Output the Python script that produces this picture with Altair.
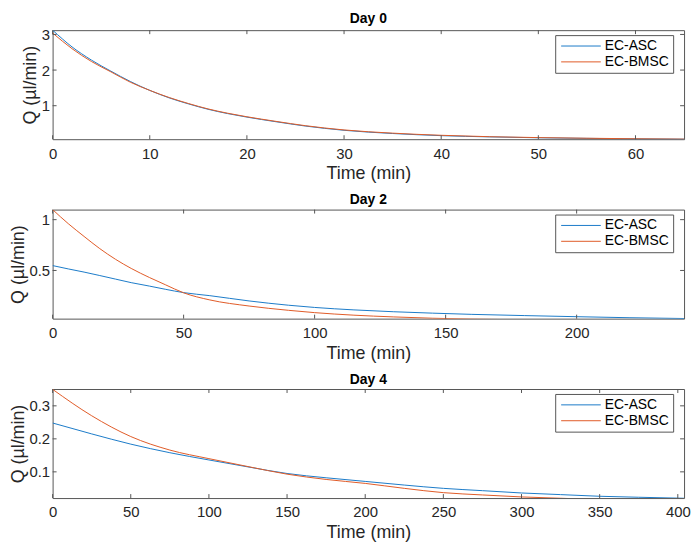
import altair as alt
import pandas as pd

FONT = "Liberation Sans"
series = ["EC-ASC", "EC-BMSC"]
colors = ["#1a7ac8", "#e05a26"]

# ---- Day 0 ----
t_day0 = [0, 2, 4, 6, 8, 10, 12, 14, 16, 18, 20, 23, 26, 30, 35, 40, 45, 50, 55, 60, 65]
asc_day0 = [3.12, 2.65, 2.28, 1.97, 1.68, 1.43, 1.22, 1.05, 0.90, 0.78, 0.68, 0.55, 0.43, 0.31,
            0.22, 0.16, 0.125, 0.10, 0.083, 0.07, 0.06]
bmsc_day0 = [3.04, 2.60, 2.24, 1.95, 1.66, 1.43, 1.23, 1.06, 0.91, 0.79, 0.69, 0.56, 0.44, 0.32,
             0.23, 0.17, 0.13, 0.105, 0.087, 0.072, 0.062]
xticks_day0 = [0, 10, 20, 30, 40, 50, 60]
yticks_day0 = [1, 2, 3]

# ---- Day 2 ----
t_day2 = [0, 6, 12, 18, 24, 30, 37, 43, 50, 60, 75, 90, 100, 115, 130, 145, 160, 180, 200, 220, 241]
asc_day2 = [0.548, 0.515, 0.484, 0.45, 0.415, 0.38, 0.346, 0.315, 0.282, 0.252, 0.2, 0.158, 0.136,
            0.112, 0.094, 0.08, 0.068, 0.056, 0.045, 0.035, 0.027]
bmsc_day2 = [1.099, 0.96, 0.835, 0.715, 0.61, 0.52, 0.43, 0.36, 0.28, 0.21, 0.15, 0.108, 0.085,
             0.06, 0.043, 0.03, 0.021, 0.014, 0.01, 0.007, 0.005]
xticks_day2 = [0, 50, 100, 150, 200]
yticks_day2 = [0.5, 1]

# ---- Day 4 ----
t_day4 = [0, 25, 50, 75, 100, 125, 150, 175, 200, 225, 250, 275, 300, 325, 350, 375, 404]
asc_day4 = [0.248, 0.215, 0.184, 0.158, 0.136, 0.115, 0.095, 0.082, 0.071, 0.06, 0.05, 0.043,
            0.036, 0.031, 0.026, 0.023, 0.02]
bmsc_day4 = [0.35, 0.27, 0.207, 0.166, 0.14, 0.116, 0.093, 0.077, 0.065, 0.05, 0.037, 0.03,
             0.024, 0.02, 0.016, 0.013, 0.01]
xticks_day4 = [0, 50, 100, 150, 200, 250, 300, 350, 400]
yticks_day4 = [0.1, 0.2, 0.3]

W, H = 637, 110
BOX = "#555555"


def panel(title, t, asc, bmsc, xdom, ydom, xt, yt):
    df = pd.DataFrame({
        "t": list(t) + list(t),
        "q": list(asc) + list(bmsc),
        "s": [series[0]] * len(t) + [series[1]] * len(t),
    })
    xs = alt.Scale(domain=xdom, nice=False, zero=False)
    ys = alt.Scale(domain=ydom, nice=False, zero=False)
    xax = alt.Axis(values=xt, title="Time (min)", format=".6~g")
    yax = alt.Axis(values=yt, title="Q (\u00b5l/min)", format=".6~g")
    X = alt.X("t:Q", scale=xs, axis=xax, title="Time (min)")
    Y = alt.Y("q:Q", scale=ys, axis=yax, title="Q (\u00b5l/min)")
    lines = alt.Chart(df).mark_line(clip=True, strokeWidth=1, interpolate="monotone").encode(
        x=X,
        y=Y,
        color=alt.Color("s:N", scale=alt.Scale(domain=series, range=colors),
                        legend=alt.Legend(title=None, orient="none", direction="vertical",
                                          legendX=507, legendY=5,
                                          symbolType="M-1,0H7", symbolSize=100,
                                          symbolStrokeWidth=1, labelOffset=32,
                                          labelFontSize=14, labelFont=FONT, labelColor="#000000",
                                          strokeColor=BOX, fillColor="#ffffff",
                                          padding=4, rowPadding=2)),
    )
    xdf = pd.DataFrame({"t": xt})
    ydf = pd.DataFrame({"q": yt})
    xb = alt.Chart(xdf).mark_rule(color=BOX, strokeWidth=1).encode(
        x=X, y=alt.value(H), y2=alt.value(H - 4))
    xtp = alt.Chart(xdf).mark_rule(color=BOX, strokeWidth=1).encode(
        x=X, y=alt.value(0), y2=alt.value(4))
    yl = alt.Chart(ydf).mark_rule(color=BOX, strokeWidth=1).encode(
        y=Y, x=alt.value(0), x2=alt.value(4))
    yr = alt.Chart(ydf).mark_rule(color=BOX, strokeWidth=1).encode(
        y=Y, x=alt.value(W), x2=alt.value(W - 4))
    return alt.layer(lines, xb, xtp, yl, yr).properties(
        width=W, height=H,
        title=alt.Title(title, fontSize=14, fontWeight="bold", font=FONT, color="#000000",
                        offset=2, anchor="middle"),
    )


p0 = panel("Day 0", t_day0, asc_day0, bmsc_day0, [0, 65], [0.06, 3.12], xticks_day0, yticks_day0)
p2 = panel("Day 2", t_day2, asc_day2, bmsc_day2, [0, 241], [0.026, 1.099], xticks_day2, yticks_day2)
p4 = panel("Day 4", t_day4, asc_day4, bmsc_day4, [0, 404], [0.0206, 0.351], xticks_day4, yticks_day4)

chart = alt.vconcat(p0, p2, p4, spacing=71, bounds="flush").resolve_scale(
    x="independent", y="independent", color="independent"
).resolve_legend(color="independent").properties(
    padding={"left": 0, "top": 0, "right": 0, "bottom": 0}
).configure_view(
    stroke=BOX, strokeWidth=1
).configure_axis(
    grid=False, ticks=False, domain=False, tickSize=0,
    labelFont=FONT, titleFont=FONT, labelFontSize=15, labelColor="#262626",
    titleColor="#262626", titleFontWeight="normal", labelFlush=False,
).configure_axisX(
    labelPadding=7, titlePadding=4, titleFontSize=18
).configure_axisY(
    labelPadding=3, titlePadding=2, titleFontSize=18
)

chart.save("out.html", embed_options={"renderer": "svg", "actions": False})
